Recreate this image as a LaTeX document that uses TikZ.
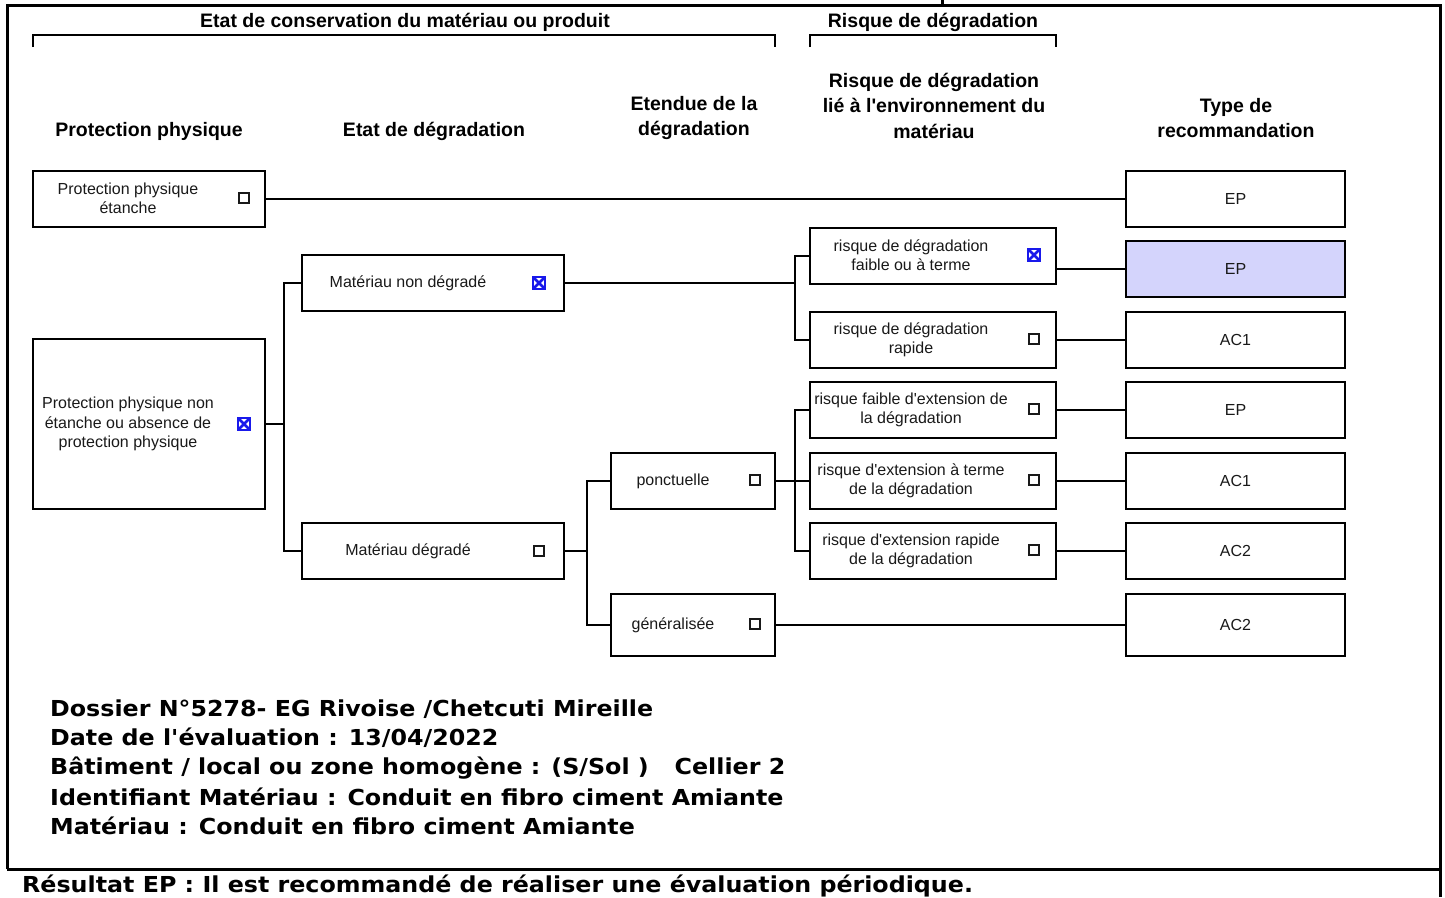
\documentclass[tikz,border=0pt]{standalone}
\usepackage{fontspec}
\setmainfont{Liberation Sans}[Ligatures=TeXOff]
\newfontfamily\infofont[FakeStretch=1.08]{DejaVu Sans}
\definecolor{xblue}{RGB}{25,25,235}
\definecolor{selfill}{RGB}{212,212,252}
\definecolor{ink}{RGB}{25,25,25}
\tikzset{
  box/.style={draw, line width=2.2pt, inner sep=0pt},
  conn/.style={line width=2.2pt},
  frame/.style={line width=3pt},
  txt/.style={font=\fontsize{16}{19.5}\selectfont, text=ink, align=center, inner sep=0pt},
  hdr/.style={font=\fontsize{19.5}{25.5}\selectfont\bfseries, align=center, inner sep=0pt},
  info/.style={font=\fontsize{22}{29.3}\selectfont\infofont\bfseries, anchor=west, inner sep=0pt},
  chk/.style={draw=ink, line width=1.2pt, minimum size=10pt, inner sep=0pt},
  xchk/.style={draw=xblue, line width=1.6pt, minimum size=12pt, inner sep=0pt,
    path picture={\draw[xblue, line width=2.6pt]
      (path picture bounding box.north west) -- (path picture bounding box.south east)
      (path picture bounding box.north east) -- (path picture bounding box.south west);}},
}
\begin{document}
\begin{tikzpicture}[x=1pt, y=-1pt]
\useasboundingbox (0,0) rectangle (1445,897);
% outer frame
\draw[frame] (7,869) -- (7,5) -- (1440,5) -- (1440,897);
\draw[frame] (7,869) -- (1440,869);
\draw[frame] (942,0) -- (942,5);
% top brackets
\node[hdr] (g1) at (405,22) {Etat de conservation du matériau ou produit};
\node[hdr] (g2) at (933,22) {Risque de dégradation};
\draw[conn] (33,47) -- (33,35) -- (775,35) -- (775,47);
\draw[conn] (810,47) -- (810,35) -- (1056,35) -- (1056,47);
% column headers
\node[hdr] (h1) at (149,131) {Protection physique};
\node[hdr] (h2) at (434,131) {Etat de dégradation};
\node[hdr] (h3) at (694,118) {Etendue de la\\dégradation};
\node[hdr] (h4) at (934,105.5) {Risque de dégradation\\lié à l'environnement du\\matériau};
\node[hdr] (h5) at (1236,118) {Type de\\recommandation};
% boxes
\node[box, minimum width=232pt, minimum height=56pt] (ppe) at (149,199) {};
\node[box, minimum width=232pt, minimum height=170pt] (ppne) at (149,424) {};
\node[box, minimum width=262pt, minimum height=56pt] (mnd) at (433,283) {};
\node[box, minimum width=262pt, minimum height=56pt] (md) at (433,551) {};
\node[box, minimum width=164pt, minimum height=56pt] (pon) at (693,481) {};
\node[box, minimum width=164pt, minimum height=62pt] (gen) at (693,625) {};
\node[box, minimum width=246pt, minimum height=56pt] (r1) at (933,256) {};
\node[box, minimum width=246pt, minimum height=56pt] (r2) at (933,340) {};
\node[box, minimum width=246pt, minimum height=56pt] (r3) at (933,410) {};
\node[box, minimum width=246pt, minimum height=56pt] (r4) at (933,481) {};
\node[box, minimum width=246pt, minimum height=56pt] (r5) at (933,551) {};
\node[box, minimum width=219pt, minimum height=56pt] (t1) at (1235.5,199) {};
\node[box, fill=selfill, minimum width=219pt, minimum height=56pt] (t2) at (1235.5,269) {};
\node[box, minimum width=219pt, minimum height=56pt] (t3) at (1235.5,340) {};
\node[box, minimum width=219pt, minimum height=56pt] (t4) at (1235.5,410) {};
\node[box, minimum width=219pt, minimum height=56pt] (t5) at (1235.5,481) {};
\node[box, minimum width=219pt, minimum height=56pt] (t6) at (1235.5,551) {};
\node[box, minimum width=219pt, minimum height=62pt] (t7) at (1235.5,625) {};
% box texts
\node[txt] (ppe-l) at (128,198.5) {Protection physique\\étanche};
\node[txt] (ppne-l) at (128,424) {Protection physique non\\étanche ou absence de\\protection physique};
\node[txt] (mnd-l) at (408,283) {Matériau non dégradé};
\node[txt] (md-l) at (408,551) {Matériau dégradé};
\node[txt] (pon-l) at (673,481) {ponctuelle};
\node[txt] (gen-l) at (673,625) {généralisée};
\node[txt] (r1-l) at (911,255) {risque de dégradation\\faible ou à terme};
\node[txt] (r2-l) at (911,340) {risque de dégradation\\rapide};
\node[txt] (r3-l) at (911,410) {risque faible d'extension de\\la dégradation};
\node[txt] (r4-l) at (911,481) {risque d'extension à terme\\de la dégradation};
\node[txt] (r5-l) at (911,551) {risque d'extension rapide\\de la dégradation};
\node[txt] (t1-l) at (t1) {EP};
\node[txt] (t2-l) at (t2) {EP};
\node[txt] (t3-l) at (t3) {AC1};
\node[txt] (t4-l) at (t4) {EP};
\node[txt] (t5-l) at (t5) {AC1};
\node[txt] (t6-l) at (t6) {AC2};
\node[txt] (t7-l) at (t7) {AC2};
% checkboxes
\node[chk] (c-ppe) at (244,198) {};
\node[xchk] (c-ppne) at (244,424) {};
\node[xchk] (c-mnd) at (539,283) {};
\node[chk] (c-md) at (539,551) {};
\node[chk] (c-pon) at (755,480) {};
\node[chk] (c-gen) at (755,624) {};
\node[xchk] (c-r1) at (1034,255) {};
\node[chk] (c-r2) at (1034,339) {};
\node[chk] (c-r3) at (1034,409) {};
\node[chk] (c-r4) at (1034,480) {};
\node[chk] (c-r5) at (1034,550) {};
% junctions
\coordinate (j1) at (284,424);
\coordinate (j2) at (795,283);
\coordinate (j3) at (587,551);
\coordinate (j4) at (795,481);
% connectors
\draw[conn] (ppe.east) -- (t1.west);
\draw[conn] (ppne.east) -- (j1);
\draw[conn] (mnd.west) -- (mnd.west -| j1) -- (md.west -| j1) -- (md.west);
\draw[conn] (mnd.east) -- (j2);
\draw[conn] (r1.west) -- (r1.west -| j2) -- (r2.west -| j2) -- (r2.west);
\draw[conn] (r1.east |- t2.west) -- (t2.west);
\draw[conn] (r2.east) -- (t3.west);
\draw[conn] (md.east) -- (j3);
\draw[conn] (pon.west) -- (pon.west -| j3) -- (gen.west -| j3) -- (gen.west);
\draw[conn] (pon.east) -- (j4);
\draw[conn] (r3.west) -- (r3.west -| j4) -- (r5.west -| j4) -- (r5.west);
\draw[conn] (j4) -- (r4.west);
\draw[conn] (r3.east) -- (t4.west);
\draw[conn] (r4.east) -- (t5.west);
\draw[conn] (r5.east) -- (t6.west);
\draw[conn] (gen.east) -- (t7.west);
% info text
\node[info] (i1) at (50,709) {Dossier N°5278- EG Rivoise /Chetcuti Mireille};
\node[info] (i2) at (50,738) {Date de l'évaluation : 13/04/2022};
\node[info] (i3) at (50,768) {Bâtiment / local ou zone homogène : (S/Sol )\hspace{0.8em} Cellier 2};
\node[info] (i4) at (50,797) {Identifiant Matériau : Conduit en fibro ciment Amiante};
\node[info] (i5) at (50,826) {Matériau : Conduit en fibro ciment Amiante};
\node[info, anchor=base west] (res) at (22,892) {Résultat EP : Il est recommandé de réaliser une évaluation périodique.};
\end{tikzpicture}
\end{document}
